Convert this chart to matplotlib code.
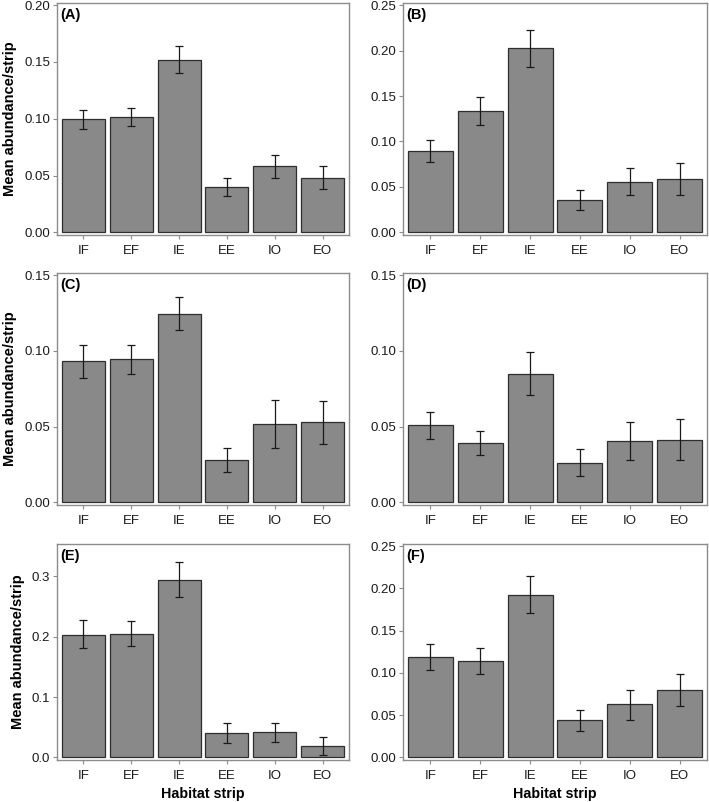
import numpy as np
import matplotlib
matplotlib.use("Agg")
import matplotlib.pyplot as plt
from matplotlib.ticker import FormatStrFormatter

plt.rcParams['font.family'] = ['Liberation Sans', 'DejaVu Sans']

strips = ["IF", "EF", "IE", "EE", "IO", "EO"]

# means and error bar ends, one list per panel
mean_a = [0.0996, 0.1013, 0.1518, 0.0396, 0.0582, 0.0481]
lo_a = [0.0907, 0.0934, 0.1403, 0.0319, 0.0479, 0.0384]
hi_a = [0.1080, 0.1096, 0.1637, 0.0479, 0.0682, 0.0582]

mean_b = [0.0895, 0.1340, 0.2025, 0.0353, 0.0556, 0.0585]
lo_b = [0.0773, 0.1186, 0.1819, 0.0247, 0.0405, 0.0409]
hi_b = [0.1020, 0.1490, 0.2231, 0.0460, 0.0707, 0.0758]

mean_c = [0.0931, 0.0945, 0.1247, 0.0278, 0.0520, 0.0528]
lo_c = [0.0822, 0.0846, 0.1137, 0.0197, 0.0361, 0.0385]
hi_c = [0.1041, 0.1039, 0.1359, 0.0361, 0.0678, 0.0670]

mean_d = [0.0508, 0.0394, 0.0850, 0.0262, 0.0403, 0.0414]
lo_d = [0.0418, 0.0315, 0.0707, 0.0174, 0.0277, 0.0280]
hi_d = [0.0597, 0.0474, 0.0991, 0.0349, 0.0528, 0.0550]

mean_e = [0.2030, 0.2047, 0.2945, 0.0397, 0.0414, 0.0185]
lo_e = [0.1813, 0.1840, 0.2660, 0.0234, 0.0250, 0.0038]
hi_e = [0.2270, 0.2265, 0.3240, 0.0566, 0.0577, 0.0332]

mean_f = [0.1190, 0.1136, 0.1920, 0.0439, 0.0627, 0.0795]
lo_f = [0.1038, 0.0983, 0.1704, 0.0317, 0.0447, 0.0603]
hi_f = [0.1336, 0.1289, 0.2140, 0.0560, 0.0803, 0.0991]

panel_labels = ["(A)", "(B)", "(C)", "(D)", "(E)", "(F)"]
y_max = [0.20, 0.25, 0.15, 0.15, 0.35, 0.25]
y_step = [0.05, 0.05, 0.05, 0.05, 0.1, 0.05]
y_fmt = ["%.2f", "%.2f", "%.2f", "%.2f", "%.1f", "%.2f"]

panels = [(mean_a, lo_a, hi_a), (mean_b, lo_b, hi_b),
          (mean_c, lo_c, hi_c), (mean_d, lo_d, hi_d),
          (mean_e, lo_e, hi_e), (mean_f, lo_f, hi_f)]

W, H = 709, 802
fig = plt.figure(figsize=(W / 100, H / 100), dpi=100)

# axes boxes in pixels: left, top, right, bottom
col_x = [(57, 349), (403, 707)]
row_y = [(2.5, 235), (272.5, 505), (543.5, 760)]

border = "#8c8c8c"
for i, (m, lo, hi) in enumerate(panels):
    r, c = divmod(i, 2)
    x0, x1 = col_x[c]
    y0, y1 = row_y[r]
    ax = fig.add_axes([x0 / W, 1 - y1 / H, (x1 - x0) / W, (y1 - y0) / H])
    x = np.arange(len(strips))
    m = np.array(m)
    ax.bar(x, m, width=0.9, color="#898989", edgecolor="#2e2e2e", linewidth=0.9, zorder=2)
    yerr = np.vstack([m - np.array(lo), np.array(hi) - m])
    ax.errorbar(x, m, yerr=yerr, fmt="none", ecolor="#1a1a1a", elinewidth=0.9,
                capsize=3.2, capthick=0.9, zorder=3)
    top = y_max[i]
    pad = top * 0.012
    ax.set_ylim(-pad, top + pad)
    ax.set_xlim(-0.55, len(strips) - 0.45)
    ticks = np.arange(0, top + 1e-9, y_step[i])
    ax.set_yticks(ticks)
    ax.yaxis.set_major_formatter(FormatStrFormatter(y_fmt[i]))
    ax.set_xticks(x)
    ax.set_xticklabels(strips)
    ax.tick_params(axis="both", labelsize=9.5, color=border, length=3, width=0.8,
                   labelcolor="#1a1a1a", pad=2)
    ax.tick_params(axis="x", pad=4)
    for s in ax.spines.values():
        s.set_color(border)
        s.set_linewidth(1.0)
    ax.text(0.012, 0.975, panel_labels[i], transform=ax.transAxes, ha="left", va="top",
            fontsize=10.5, fontweight="bold")
    if c == 0:
        ax.set_ylabel("Mean abundance/strip", fontsize=10.5, fontweight="bold", labelpad=5)
    if r == 2:
        ax.set_xlabel("Habitat strip", fontsize=10.3, fontweight="bold", labelpad=4)

fig.savefig("out.png", dpi=100)
